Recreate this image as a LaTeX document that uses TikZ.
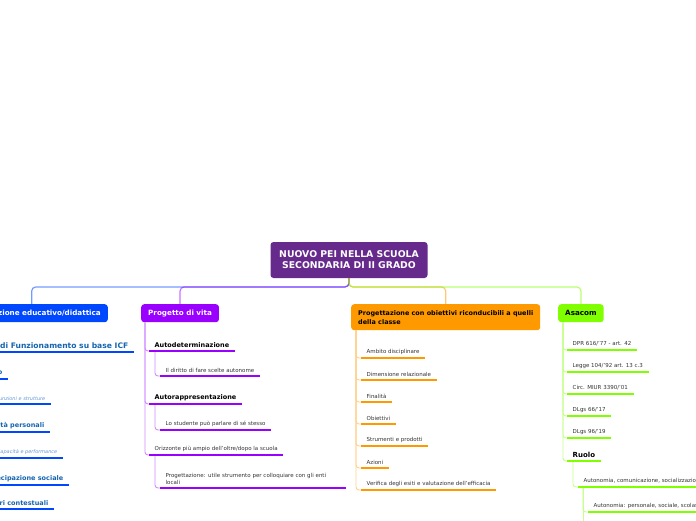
\documentclass[tikz,border=0pt]{standalone}
\usepackage{fontspec}
\setmainfont{DejaVu Sans}

\definecolor{rootpurple}{RGB}{102,42,140}
\definecolor{cblue}{RGB}{0,72,255}
\definecolor{cbluetext}{RGB}{20,100,175}
\definecolor{cbluesoft}{RGB}{100,150,215}
\definecolor{cpurple}{RGB}{153,0,255}
\definecolor{corange}{RGB}{255,153,0}
\definecolor{cgreen}{RGB}{128,255,0}
\definecolor{ctext}{RGB}{51,51,51}

\newcommand{\fsroot}{\fontsize{9.3}{11}\selectfont\bfseries}
\newcommand{\fstopic}{\fontsize{7.2}{9}\selectfont\bfseries}
\newcommand{\fssmalltopic}{\fontsize{6.45}{9}\selectfont\bfseries}
\newcommand{\fshead}{\fontsize{6.5}{7.5}\selectfont\bfseries}
\newcommand{\fsicf}{\fontsize{7.6}{8.5}\selectfont\bfseries}
\newcommand{\fsblue}{\fontsize{6.5}{8}\selectfont\bfseries}
\newcommand{\fsleaf}{\fontsize{5.5}{6.6}\selectfont}
\newcommand{\fsnote}{\fontsize{5}{6}\selectfont\itshape}

\tikzset{
  rootbox/.style={fill=rootpurple, text=white, rounded corners=3pt, minimum width=157pt,
    minimum height=36pt, align=center, font=\fsroot},
  topic/.style={anchor=north west, rounded corners=3pt, minimum height=18pt, inner xsep=7pt,
    align=left, font=\fstopic},
  leaf/.style={anchor=south west, inner xsep=5.5pt, inner ysep=3.3pt, align=left, font=\fsleaf, text=ctext},
  head/.style={leaf, font=\fshead, text=black},
  bluehead/.style={leaf, anchor=south east, font=\fsblue, text=cbluetext},
  bluenote/.style={leaf, anchor=south east, font=\fsnote, text=cbluesoft},
  bar/.style={draw=#1, line width=2.8pt},
  tree/.style={draw=#1!45!white, line width=0.9pt, rounded corners=3pt},
  link/.style={draw=#1, draw opacity=0.55, line width=1.2pt, rounded corners=4pt},
}

\begin{document}
\begin{tikzpicture}[x=1pt,y=-1pt]
  \useasboundingbox (0,0) rectangle (696,520);
  \clip (0,0) rectangle (696,520);

  % Central topic
  \node[rootbox] (root) at (349,260) {NUOVO PEI NELLA SCUOLA\\SECONDARIA DI II GRADO};
  \coordinate (hub) at (349,287);

  % Main topics
  \node[topic, anchor=north east, fill=cblue, text=white] (pe) at (108,304) {Progettazione educativo/didattica};
  \node[topic, fill=cpurple, text=white] (pv) at (141,304) {Progetto di vita};
  \node[topic, fill=corange, text=black, minimum height=26pt, font=\fssmalltopic] (obj) at (351,304)
    {Progettazione con obiettivi riconducibili a quelli\\della classe};
  \node[topic, fill=cgreen, text=black] (asa) at (558,304) {Asacom};

  % Links from the central topic
  \foreach \t/\c in {pe/cblue, pv/cpurple, obj/corange, asa/cgreen} {
    \draw[link=\c] (root.south) -- (hub) -| (\t.north);
  }

  % Progettazione educativo/didattica
  \node[bluehead, font=\fsicf] (icf) at (134,352) {Profilo di Funzionamento su base ICF};
  \node[bluehead] (corpo) at (8,379) {Corpo};
  \node[bluenote] (funz) at (51,404) {Funzioni e strutture};
  \node[bluehead] (att) at (50,432) {Attività personali};
  \node[bluenote] (cap) at (63,458) {Capacità e performance};
  \node[bluehead] (part) at (69,485) {Partecipazione sociale};
  \node[bluehead] (fatt) at (54,509) {Fattori contestuali};
  \foreach \n in {icf, corpo, att, part, fatt} {
    \draw[tree=cblue] ([xshift=5pt]pe.south west) |- (\n.south west);
  }
  \draw[tree=cblue] ([xshift=6pt]corpo.south west) |- (funz.south west);
  \draw[tree=cblue] ([xshift=6pt]att.south west) |- (cap.south west);
  \foreach \n in {icf, corpo, funz, att, cap, part, fatt} {
    \draw[bar=cblue] (\n.south west) -- (\n.south east);
  }

  % Progetto di vita
  \node[head] (autodet) at (149,351) {Autodeterminazione};
  \node[leaf] (scelte) at (160,376) {Il diritto di fare scelte autonome};
  \node[head] (autorap) at (149,404) {Autorappresentazione};
  \node[leaf] (parla) at (160,430) {Lo studente può parlare di sé stesso};
  \node[leaf] (oriz) at (149,455) {Orizzonte più ampio dell'oltre/dopo la scuola};
  \node[leaf, text width=175pt] (enti) at (160,488) {Progettazione: utile strumento per colloquiare con gli enti\\locali};
  \foreach \n in {autodet, autorap, oriz} {
    \draw[tree=cpurple] ([xshift=4pt]pv.south west) |- (\n.south west);
  }
  \draw[tree=cpurple] ([xshift=6pt]autodet.south west) |- (scelte.south west);
  \draw[tree=cpurple] ([xshift=6pt]autorap.south west) |- (parla.south west);
  \draw[tree=cpurple] ([xshift=6pt]oriz.south west) |- (enti.south west);
  \foreach \n in {autodet, scelte, autorap, parla, oriz, enti} {
    \draw[bar=cpurple] (\n.south west) -- (\n.south east);
  }

  % Progettazione con obiettivi
  \foreach \txt [count=\i] in {Ambito disciplinare, Dimensione relazionale, Finalità, Obiettivi,
      Strumenti e prodotti, Azioni, Verifica degli esiti e valutazione dell'efficacia} {
    \node[leaf] (o\i) at (361,336+22*\i) {\txt};
    \draw[tree=corange] ([xshift=5pt]obj.south west) |- (o\i.south west);
    \draw[bar=corange] (o\i.south west) -- (o\i.south east);
  }

  % Asacom
  \foreach \txt [count=\i] in {DPR 616/'77 - art. 42, Legge 104/'92 art. 13 c.3, Circ. MIUR 3390/'01,
      DLgs 66/'17, DLgs 96/'19} {
    \node[leaf] (a\i) at (567,328+22*\i) {\txt};
    \draw[tree=cgreen] ([xshift=5pt]asa.south west) |- (a\i.south west);
    \draw[bar=cgreen] (a\i.south west) -- (a\i.south east);
  }
  \node[head, font=\fontsize{7}{8}\selectfont\bfseries] (ruolo) at (567,461) {Ruolo};
  \node[leaf] (ruolo1) at (578,487) {Autonomia, comunicazione, socializzazione};
  \node[leaf] (ruolo2) at (588,512) {Autonomia: personale, sociale, scolastica};
  \draw[tree=cgreen] ([xshift=5pt]asa.south west) |- (ruolo.south west);
  \draw[tree=cgreen] ([xshift=6pt]ruolo.south west) |- (ruolo1.south west);
  \draw[tree=cgreen] ([xshift=5pt]ruolo1.south west) |- (ruolo2.south west);
  \draw[tree=cgreen] ([xshift=5pt]ruolo1.south west) -- ++(0,40);
  \foreach \n in {ruolo, ruolo1, ruolo2} {
    \draw[bar=cgreen] (\n.south west) -- (\n.south east);
  }
\end{tikzpicture}
\end{document}
